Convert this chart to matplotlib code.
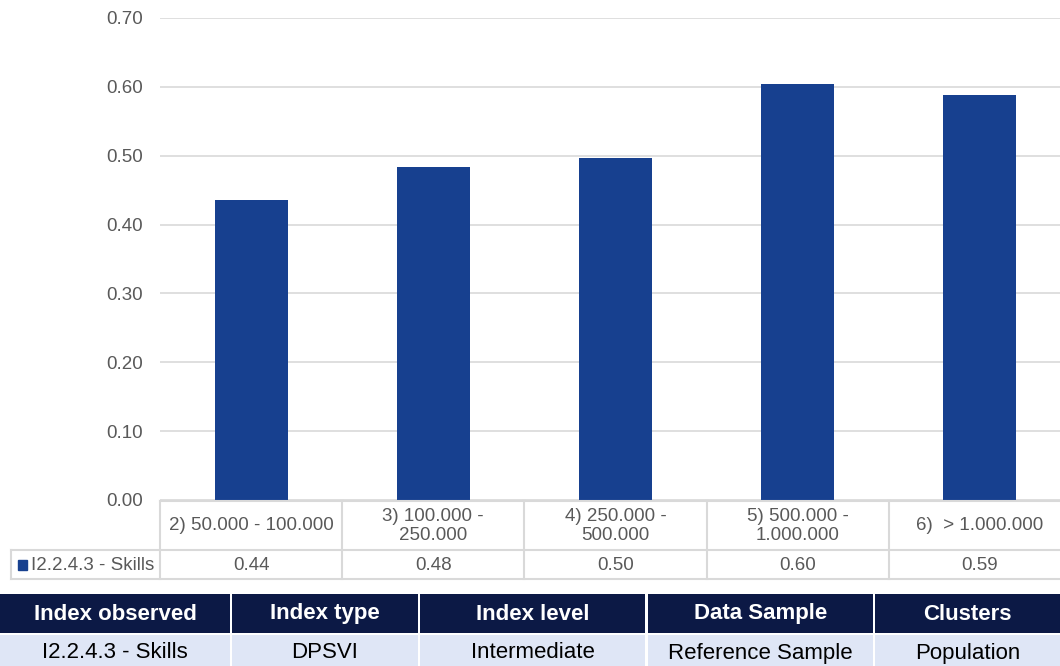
import matplotlib.pyplot as plt
from matplotlib.patches import Rectangle
from matplotlib.lines import Line2D

plt.rcParams['font.family'] = ['Liberation Sans', 'DejaVu Sans']

categories = ['2) 50.000 - 100.000', '3) 100.000 -\n250.000', '4) 250.000 -\n500.000',
              '5) 500.000 -\n1.000.000', '6)  > 1.000.000']
values = [0.436, 0.483, 0.497, 0.604, 0.588]
value_labels = ['0.44', '0.48', '0.50', '0.60', '0.59']
series_name = 'I2.2.4.3 - Skills'
info_headers = ['Index observed', 'Index type', 'Index level', 'Data Sample', 'Clusters']
info_values = ['I2.2.4.3 - Skills', 'DPSVI', 'Intermediate', 'Reference Sample', 'Population']

W, H = 1060, 666
bar_color = '#17408f'
grid_color = '#d9d9d9'
text_grey = '#595959'

fig = plt.figure(figsize=(W / 100, H / 100), dpi=100)


def fx(px):
    return px / W


def fy(py):
    return 1 - py / H


# main axes: x 160..1071 (runs past the right edge), y 18..500
left, right = 160, 1071
col_w = (right - left) / len(categories)
ax = fig.add_axes([fx(left), fy(500), fx(right) - fx(left), fy(18) - fy(500)])
x = range(len(categories))
ax.bar(x, values, width=0.4, color=bar_color, zorder=3)
ax.set_xlim(-0.5, len(categories) - 0.5)
ax.set_ylim(0, 0.7)
ax.set_yticks([i / 10 for i in range(8)])
ax.set_yticklabels(['%.2f' % (i / 10) for i in range(8)], color=text_grey, fontsize=13.5)
ax.tick_params(axis='y', length=0, pad=12)
ax.set_xticks([])
ax.grid(axis='y', color=grid_color, linewidth=1.2, zorder=0)
for s in ax.spines.values():
    s.set_visible(False)


# data table under the chart
def hline(x0, x1, y):
    fig.add_artist(Line2D([fx(x0), fx(x1)], [fy(y), fy(y)], color=grid_color, linewidth=1.5))


def vline(x0, y0, y1):
    fig.add_artist(Line2D([fx(x0), fx(x0)], [fy(y0), fy(y1)], color=grid_color, linewidth=1.5))


hline(left, W, 500.5)
hline(11, W, 550)
hline(11, W, 579)
vline(11, 550, 579)
for i in range(len(categories) + 1):
    vline(left + i * col_w, 500.5, 579)

for i, (c, v) in enumerate(zip(categories, value_labels)):
    cx = left + col_w * (i + 0.5)
    fig.text(fx(cx), fy(526), c, ha='center', va='center', fontsize=13.5,
             color=text_grey, linespacing=1.2)
    fig.text(fx(cx), fy(566), v, ha='center', va='center', fontsize=13.5, color=text_grey)

fig.add_artist(Rectangle((fx(18), fy(570)), fx(9), fy(560) - fy(570), color=bar_color))
fig.text(fx(31), fy(565.5), series_name, ha='left', va='center', fontsize=13.5, color=text_grey)

# info table at the bottom
col_edges = [(0, 230), (232, 418), (420, 645), (648, 873), (875, 1060)]
for (x0, x1), h, v in zip(col_edges, info_headers, info_values):
    fig.add_artist(Rectangle((fx(x0), fy(633)), fx(x1 - x0), fy(594) - fy(633),
                             color='#0c1945', linewidth=0))
    fig.add_artist(Rectangle((fx(x0), fy(668)), fx(x1 - x0), fy(635) - fy(668),
                             color='#dfe6f6', linewidth=0))
    fig.text(fx((x0 + x1) / 2), fy(614), h, ha='center', va='center', fontsize=16,
             fontweight='bold', color='white')
    fig.text(fx((x0 + x1) / 2), fy(653), v, ha='center', va='center', fontsize=16, color='black')

fig.savefig('out.png', dpi=100)
